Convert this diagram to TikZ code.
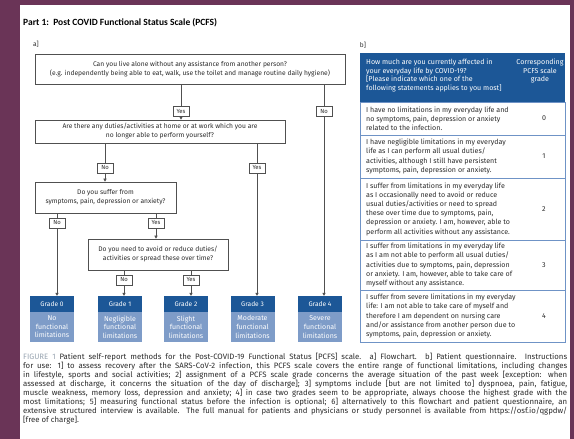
\documentclass[tikz,border=0pt]{standalone}
\usepackage{fontspec}
\setmainfont{Fira Sans}
\newfontfamily\titlefont{Carlito}
\usetikzlibrary{arrows.meta}
\definecolor{bgpurple}{HTML}{6A3457}
\definecolor{gradedark}{HTML}{1C5797}
\definecolor{gradelight}{HTML}{7E9CC8}
\definecolor{tabline}{HTML}{6F93C6}
\definecolor{txt}{HTML}{2C2C2C}
\definecolor{boxline}{HTML}{505050}
\definecolor{figgray}{HTML}{9AA6B2}
\begin{document}
\begin{tikzpicture}[x=1pt,y=-1pt,
 qbox/.style={draw=boxline, line width=0.7pt, fill=white, align=center, text=txt, font=\fontsize{6.7}{9}\selectfont, inner sep=0pt},
 lab/.style={draw=boxline, line width=0.5pt, fill=white, text=txt, font=\fontsize{5.9}{7}\selectfont, minimum width=16pt, minimum height=10pt, inner sep=0.5pt},
 conn/.style={draw=boxline, line width=0.6pt},
 arr/.style={conn, -{Triangle[length=3pt,width=3.2pt]}},
 ghead/.style={fill=gradedark, text=white, minimum width=44pt, minimum height=16pt, inner sep=0pt, font=\fontsize{6.6}{8}\selectfont},
 gbody/.style={fill=gradelight, text=white, minimum width=44pt, minimum height=30pt, inner sep=0pt, align=center, font=\fontsize{7}{8.6}\selectfont},
 rowtext/.style={anchor=west, align=left, text=txt, inner sep=0pt, font=\fontsize{7.1}{9.2}\selectfont},
 rownum/.style={text=txt, inner sep=0pt, font=\fontsize{7.1}{9}\selectfont},
 capline/.style={anchor=west, inner sep=0pt, text=txt, font=\fontsize{7.8}{9}\selectfont},
]
\useasboundingbox (0,0) rectangle (574,439);
\fill[bgpurple] (0,0) rectangle (574,439);
\fill[white] (20,5) rectangle (570,439);

% title
\node[anchor=west, inner sep=0pt, font=\titlefont\bfseries\fontsize{9.5}{11}\selectfont, text=black] (title) at (23,23) {Part 1:\ \ Post COVID Functional Status Scale (PCFS)};
\node[inner sep=0pt, text=txt, font=\fontsize{6.6}{8}\selectfont] (la) at (36,44) {a]};
\node[inner sep=0pt, text=txt, font=\fontsize{6.6}{8}\selectfont] (lb) at (363,45) {b]};

% flowchart questions
\node[qbox, minimum width=310pt, minimum height=30pt] (q1) at (190,69) {Can you live alone without any assistance from another person?\\(e.g. independently being able to eat, walk, use the toilet and manage routine daily hygiene)};
\node[qbox, minimum width=250pt, minimum height=23pt] (q2) at (160,131.5) {Are there any duties/activities at home or at work which you are\\no longer able to perform yourself?};
\node[qbox, minimum width=141pt, minimum height=31pt] (q3) at (105.5,197.5) {Do you suffer from\\symptoms, pain, depression or anxiety?};
\node[qbox, minimum width=140pt, minimum height=31pt] (q4) at (158,254.5) {Do you need to avoid or reduce duties/\\activities or spread these over time?};

% grades
\node[ghead] (g0) at (52,304) {Grade 0};
\node[gbody] (b0) at (52,327) {No\\functional\\limitations};
\node[ghead] (g1) at (120,304) {Grade 1};
\node[gbody] (b1) at (120,327) {Negligible\\functional\\limitations};
\node[ghead] (g2) at (186,304) {Grade 2};
\node[gbody] (b2) at (186,327) {Slight\\functional\\limitations};
\node[ghead] (g3) at (252.5,304) {Grade 3};
\node[gbody] (b3) at (252.5,327) {Moderate\\functional\\limitations};
\node[ghead] (g4) at (320,304) {Grade 4};
\node[gbody] (b4) at (320,327) {Severe\\functional\\limitations};

% labels
\node[lab] (yes1) at (181,111.5) {Yes};
\node[lab] (no1) at (324,111.5) {No};
\node[lab] (no2) at (105,168) {No};
\node[lab] (yes2) at (257,168) {Yes};
\node[lab] (no3) at (57,223) {No};
\node[lab] (yes3) at (156,223) {Yes};
\node[lab] (no4) at (124,280) {No};
\node[lab] (yes4) at (191,280) {Yes};

% connectors
\draw[conn] (q1.south -| yes1) -- (yes1.north);
\draw[arr] (yes1.south) -- (q2.north -| yes1);
\draw[conn] (q1.south -| no1) -- (no1.north);
\draw[arr] (no1.south) -- (g4.north -| no1);
\draw[conn] (q2.south -| no2) -- (no2.north);
\draw[arr] (no2.south) -- (q3.north -| no2);
\draw[conn] (q2.south -| yes2) -- (yes2.north);
\draw[arr] (yes2.south) -- (g3.north -| yes2);
\draw[conn] (q3.south -| no3) -- (no3.north);
\draw[arr] (no3.south) -- (g0.north -| no3);
\draw[conn] (q3.south -| yes3) -- (yes3.north);
\draw[arr] (yes3.south) -- (q4.north -| yes3);
\draw[conn] (q4.south -| no4) -- (no4.north);
\draw[arr] (no4.south) -- (g1.north -| no4);
\draw[conn] (q4.south -| yes4) -- (yes4.north);
\draw[arr] (yes4.south) -- (g2.north -| yes4);

% table
\fill[gradedark] (360,53) rectangle (565,102);
\draw[tabline, line width=0.8pt] (360,102) rectangle (565,135);
\draw[tabline, line width=0.8pt] (360,135) rectangle (565,178);
\draw[tabline, line width=0.8pt] (360,178) rectangle (565,240);
\draw[tabline, line width=0.8pt] (360,240) rectangle (565,290);
\draw[tabline, line width=0.8pt] (360,290) rectangle (565,342);
\node[rowtext, text=white, font=\fontsize{7.1}{8.7}\selectfont] (th1) at (366,75.5) {How much are you currently affected in\\your everyday life by COVID-19?\\{[}Please indicate which one of the\\following statements applies to you most]};
\node[rownum, text=white, align=center, font=\fontsize{7.1}{8.7}\selectfont] (th2) at (540,71) {Corresponding\\PCFS scale\\grade};

\node[rowtext] (t0) at (366,118.5) {I have no limitations in my everyday life and\\no symptoms, pain, depression or anxiety\\related to the infection.};
\node[rownum] (n0) at (544,118.5) {0};
\node[rowtext] (t1) at (366,156.5) {I have negligible limitations in my everyday\\life as I can perform all usual duties/\\activities, although I still have persistent\\symptoms, pain, depression or anxiety.};
\node[rownum] (n1) at (544,156.5) {1};
\node[rowtext] (t2) at (366,209) {I suffer from limitations in my everyday life\\as I occasionally need to avoid or reduce\\usual duties/activities or need to spread\\these over time due to symptoms, pain,\\depression or anxiety. I am, however, able to\\perform all activities without any assistance.};
\node[rownum] (n2) at (544,209) {2};
\node[rowtext] (t3) at (366,265) {I suffer from limitations in my everyday life\\as I am not able to perform all usual duties/\\activities due to symptoms, pain, depression\\or anxiety. I am, however, able to take care of\\myself without any assistance.};
\node[rownum] (n3) at (544,265) {3};
\node[rowtext] (t4) at (366,316) {I suffer from severe limitations in my everyday\\life: I am not able to take care of myself and\\therefore I am dependent on nursing care\\and/or assistance from another person due to\\symptoms, pain, depression or anxiety.};
\node[rownum] (n4) at (544,316) {4};

% caption
\node[capline] (c1) at (23,357) {\makebox[544pt][s]{\textcolor{figgray}{FIGURE 1} Patient self-report methods for the Post-COVID-19 Functional Status [PCFS] scale. a] Flowchart. b] Patient questionnaire. Instructions}};
\node[capline] (c2) at (23,366) {\makebox[544pt][s]{for use: 1] to assess recovery after the SARS-CoV-2 infection, this PCFS scale covers the entire range of functional limitations, including changes}};
\node[capline] (c3) at (23,375) {\makebox[544pt][s]{in lifestyle, sports and social activities; 2] assignment of a PCFS scale grade concerns the average situation of the past week [exception: when}};
\node[capline] (c4) at (23,384) {\makebox[544pt][s]{assessed at discharge, it concerns the situation of the day of discharge]; 3] symptoms include [but are not limited to] dyspnoea, pain, fatigue,}};
\node[capline] (c5) at (23,393) {\makebox[544pt][s]{muscle weakness, memory loss, depression and anxiety; 4] in case two grades seem to be appropriate, always choose the highest grade with the}};
\node[capline] (c6) at (23,402) {\makebox[544pt][s]{most limitations; 5] measuring functional status before the infection is optional; 6] alternatively to this flowchart and patient questionnaire, an}};
\node[capline] (c7) at (23,411) {\makebox[544pt][s]{extensive structured interview is available. The full manual for patients and physicians or study personnel is available from https://osf.io/qgpdw/}};
\node[capline] (c8) at (23,420) {[free of charge].};
\end{tikzpicture}
\end{document}
